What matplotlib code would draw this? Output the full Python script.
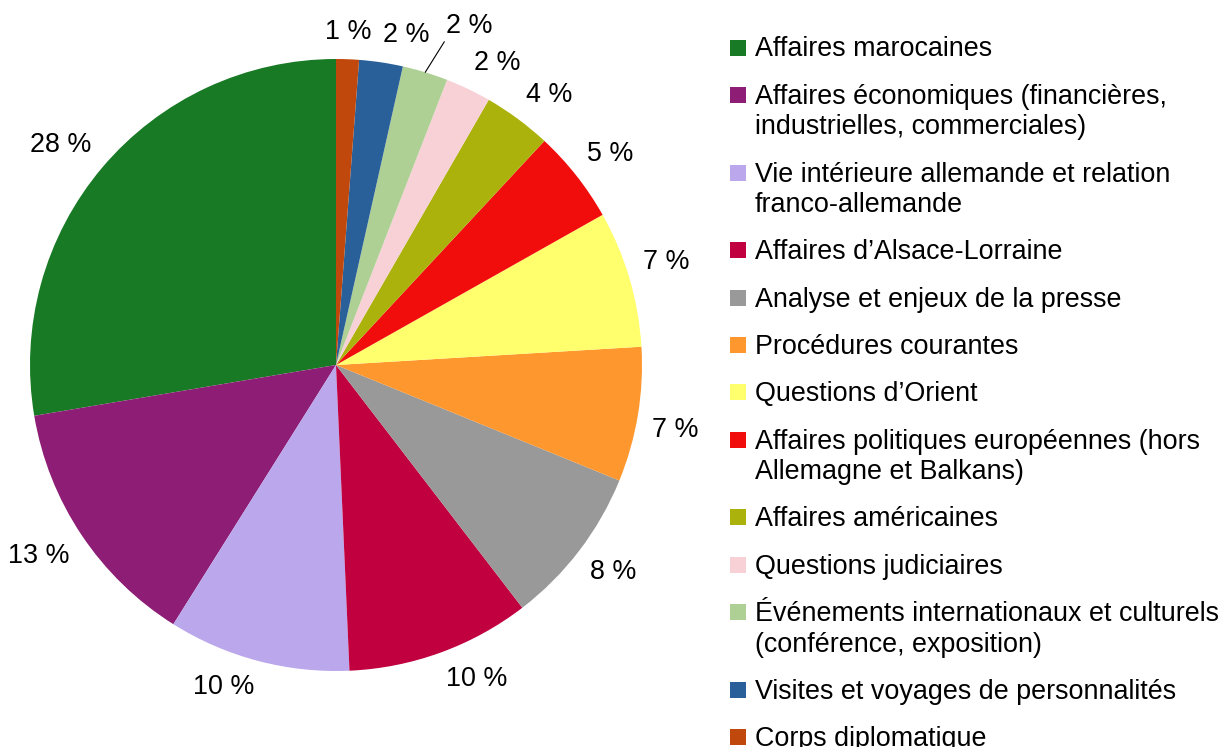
import numpy as np
import matplotlib
matplotlib.use("Agg")
import matplotlib.pyplot as plt
from matplotlib.patches import Rectangle

plt.rcParams['font.family'] = ['Liberation Sans', 'DejaVu Sans']

# Données (parts en %)
categories = [
    "Affaires marocaines",
    "Affaires économiques (financières,\nindustrielles, commerciales)",
    "Vie intérieure allemande et relation\nfranco-allemande",
    "Affaires d’Alsace-Lorraine",
    "Analyse et enjeux de la presse",
    "Procédures courantes",
    "Questions d’Orient",
    "Affaires politiques européennes (hors\nAllemagne et Balkans)",
    "Affaires américaines",
    "Questions judiciaires",
    "Événements internationaux et culturels\n(conférence, exposition)",
    "Visites et voyages de personnalités",
    "Corps diplomatique",
]
valeurs = [27.6, 13.4, 9.6, 9.7, 8.4, 7.1, 7.2, 4.9, 3.6, 2.4, 2.4, 2.3, 1.2]
couleurs = ["#187a24", "#8d1d75", "#bba7ec", "#c1003f", "#999999", "#ff972f",
            "#ffff6d", "#f10d0c", "#acb20c", "#f7d1d5", "#afd095", "#2a6099",
            "#c0480c"]
label_deplace = 10  # étiquette déplacée avec ligne de rappel

W, H = 1221, 747
fig = plt.figure(figsize=(W / 100, H / 100), dpi=100)
ax = fig.add_axes([0, 0, 1, 1])

cx, cy, R = 336, H - 365, 306
wedges, _ = ax.pie(valeurs, colors=couleurs, startangle=90, counterclock=True,
                   center=(cx, cy), radius=R, frame=False)
ax.set_xlim(0, W)
ax.set_ylim(0, H)
ax.set_aspect('equal')
ax.axis('off')

total = sum(valeurs)
fs = 19.4
for i, w in enumerate(wedges):
    txt = f"{round(valeurs[i] / total * 100)} %"
    ang = np.deg2rad((w.theta1 + w.theta2) / 2)
    c, s = np.cos(ang), np.sin(ang)
    if i == label_deplace:
        ax.annotate(txt, xy=(cx + R * c, cy + R * s), xytext=(15, 24),
                    textcoords='offset points', ha='left', va='bottom',
                    fontsize=fs,
                    arrowprops=dict(arrowstyle='-', color='black', lw=0.8,
                                    relpos=(0, 0), shrinkA=0, shrinkB=0))
        continue
    px, py = cx + (R + 14) * c, cy + (R + 14) * s
    ha = 'center' if abs(c) < 0.1 else ('left' if c > 0 else 'right')
    va = 'center' if abs(s) < 0.1 else ('bottom' if s > 0 else 'top')
    ax.text(px, py, txt, ha=ha, va=va, fontsize=fs)

# Légende
y = H - 47.5
for cat, col in zip(categories, couleurs):
    ax.add_patch(Rectangle((730, y - 8), 16, 16, facecolor=col, edgecolor='none'))
    lignes = cat.split("\n")
    for k, ligne in enumerate(lignes):
        ax.text(755, y - 9 - 30.5 * k, ligne, ha='left', va='baseline', fontsize=fs)
    y -= 47.3 + 30.5 * (len(lignes) - 1)

fig.savefig("out.png", dpi=100)
